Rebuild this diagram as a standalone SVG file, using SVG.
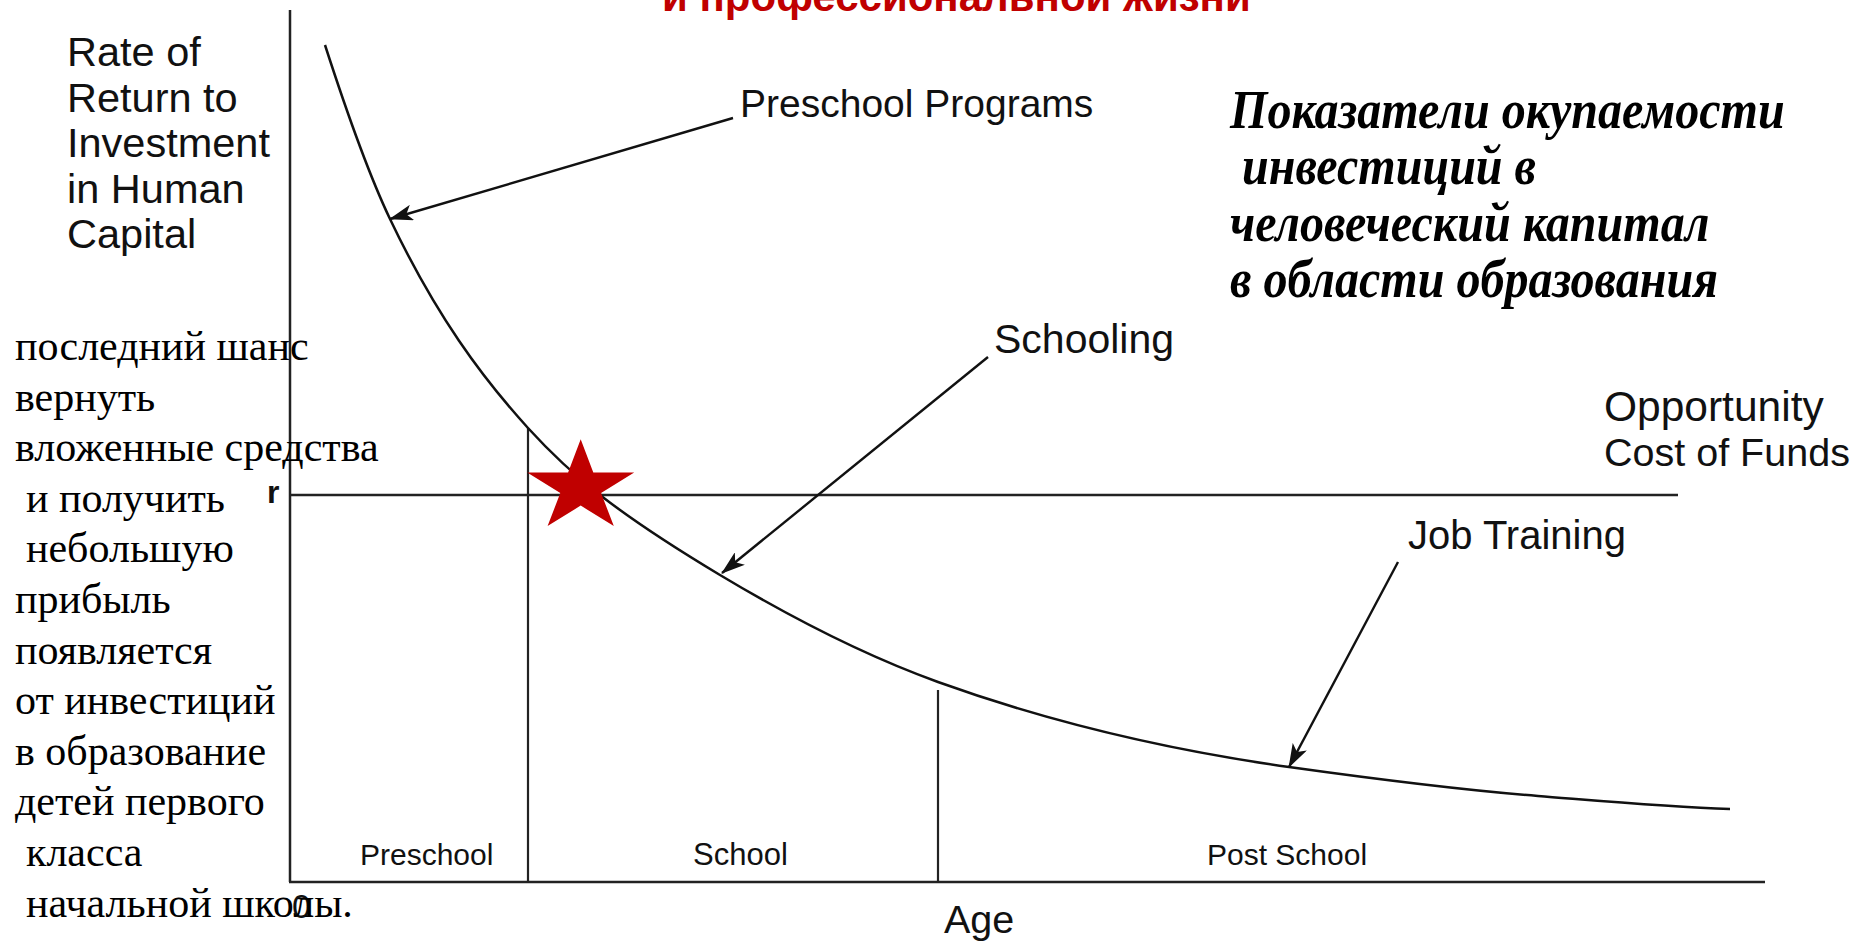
<svg xmlns="http://www.w3.org/2000/svg" width="1855" height="941" viewBox="0 0 1855 941">
<style>
.lbl{font-family:"Liberation Sans",Arial,sans-serif;fill:#111}
.ru{font-family:"Liberation Serif","Times New Roman",serif;font-size:42px;fill:#000}
.ttl{font-family:"Liberation Serif","Times New Roman",serif;font-size:54px;font-weight:bold;font-style:italic;fill:#000}
.ax{stroke:#222;stroke-width:2.5;fill:none}
.dv{stroke:#222;stroke-width:2.2;fill:none}
.arr{stroke:#111;stroke-width:2.4;fill:none;marker-end:url(#ah)}
</style>
<defs>
<marker id="ah" markerUnits="userSpaceOnUse" markerWidth="24" markerHeight="16" refX="23" refY="8" orient="auto">
<path d="M0,0 L24,8 L0,16 L6,8 z" fill="#111"/>
</marker>
</defs>
<rect width="1855" height="941" fill="#fff"/>
<g id="title-top">
<text x="662" y="11" style="font-family:'Liberation Sans',Arial,sans-serif;font-weight:bold;font-size:42px;fill:#C00000">и профессиональной жизни</text>
</g>
<g id="axes">
<line class="ax" x1="290" y1="10" x2="290" y2="882"/>
<line class="ax" x1="289" y1="882" x2="1765" y2="882"/>
<line class="ax" x1="290" y1="495" x2="1678" y2="495"/>
<line class="dv" x1="528" y1="428" x2="528" y2="882"/>
<line class="dv" x1="938" y1="690" x2="938" y2="882"/>
</g>
<g id="curve">
<path d="M325,45 C346.7,112.2 368.3,173.5 390,219 C436,315.6 482,377.4 528,428 C552,454.4 576,476.3 600,495 C640,526.2 680,551 720,575 C792.7,618.6 865.3,655.8 938,682 C1055,724.1 1172,750.6 1289,767 C1372,778.6 1455,789.4 1538,796 C1602,801.1 1666,807.1 1730,809" stroke="#111" stroke-width="2.5" fill="none"/>
</g>
<g id="connectors">
<line class="arr" x1="733" y1="118" x2="390" y2="219"/>
<line class="arr" x1="988" y1="357" x2="722" y2="573"/>
<line class="arr" x1="1398" y1="562" x2="1289" y2="767"/>
</g>
<g id="y-label">
<text class="lbl" font-size="41.5" x="67" y="66">Rate of</text>
<text class="lbl" font-size="41.5" x="67" y="111.5">Return to</text>
<text class="lbl" font-size="41.5" x="67" y="157">Investment</text>
<text class="lbl" font-size="41.5" x="67" y="202.5">in Human</text>
<text class="lbl" font-size="41.5" x="67" y="248">Capital</text>
</g>
<g id="preschool-programs"><text class="lbl" font-size="39" x="740" y="117">Preschool Programs</text></g>
<g id="schooling"><text class="lbl" font-size="41" x="994" y="353">Schooling</text></g>
<g id="job-training"><text class="lbl" font-size="40" x="1408" y="549">Job Training</text></g>
<g id="opportunity">
<text class="lbl" font-size="42.5" x="1604" y="421">Opportunity</text>
<text class="lbl" font-size="39.5" x="1604" y="466">Cost of Funds</text>
</g>
<g id="r-label"><text class="lbl" font-size="32" font-weight="bold" x="267" y="503">r</text></g>
<g id="zero-label"><text class="lbl" font-size="34" x="292" y="918">0</text></g>
<g id="regions">
<text class="lbl" font-size="30" x="360" y="865">Preschool</text>
<text class="lbl" font-size="31" x="693" y="865">School</text>
<text class="lbl" font-size="30" x="1207" y="865">Post School</text>
</g>
<g id="age-label"><text class="lbl" font-size="39.5" x="944" y="933">Age</text></g>
<g id="ru-title">
<text class="ttl" transform="translate(1230,128) scale(0.89,1)">Показатели окупаемости</text>
<text class="ttl" transform="translate(1242,184) scale(0.89,1)">инвестиций в</text>
<text class="ttl" transform="translate(1230,241) scale(0.89,1)">человеческий капитал</text>
<text class="ttl" transform="translate(1230,297) scale(0.89,1)">в области образования</text>
</g>
<g id="ru-note">
<text class="ru" x="15" y="360">последний шанс</text>
<text class="ru" x="15" y="410.6">вернуть</text>
<text class="ru" x="15" y="461.2">вложенные средства</text>
<text class="ru" x="26" y="511.8">и получить</text>
<text class="ru" x="26" y="562.4">небольшую</text>
<text class="ru" x="15" y="613">прибыль</text>
<text class="ru" x="15" y="663.6">появляется</text>
<text class="ru" x="15" y="714.2">от инвестиций</text>
<text class="ru" x="15" y="764.8">в образование</text>
<text class="ru" x="15" y="815.4">детей первого</text>
<text class="ru" x="26" y="866">класса</text>
<text class="ru" x="26" y="916.6">начальной школы.</text>
</g>
<g id="star">
<polygon points="580.7,439.3 593.3,472.5 634.2,472.5 601.1,493 613.8,526.1 580.7,505.6 547.6,526.1 560.3,493 527.2,472.5 568.1,472.5" fill="#C00000"/>
</g>
</svg>
